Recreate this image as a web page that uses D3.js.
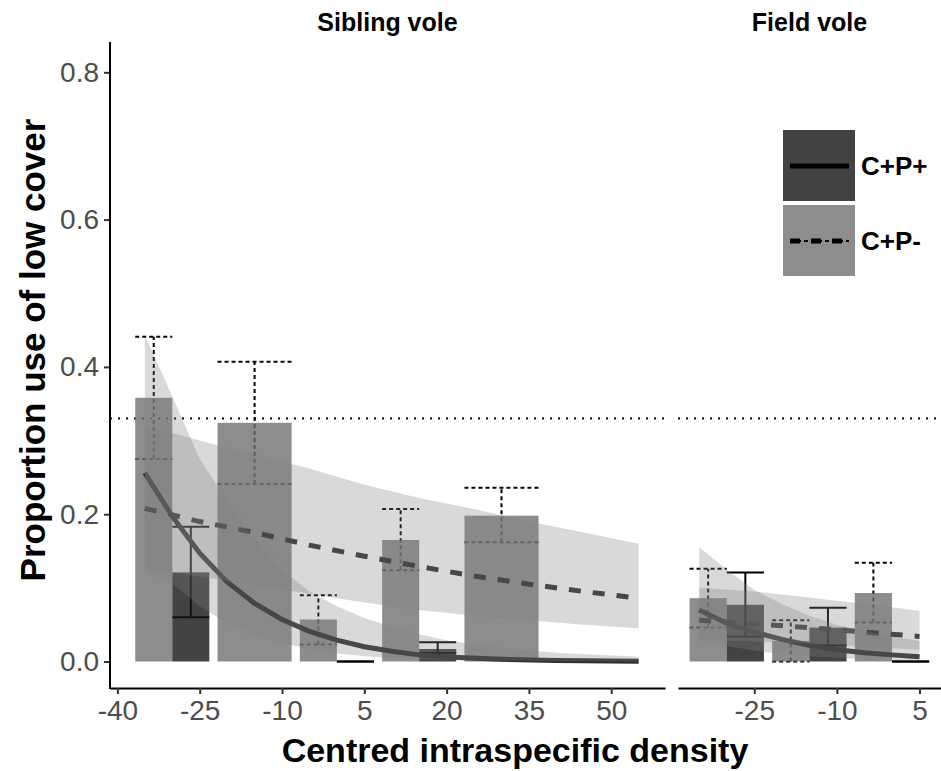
<!DOCTYPE html>
<html>
<head>
<meta charset="utf-8">
<script src="https://cdn.jsdelivr.net/npm/d3@7"></script>
<style>
body { margin: 0; background: #fff; }
text { font-family: "Liberation Sans", Arial, sans-serif; }
</style>
</head>
<body>
<svg id="chart" width="941" height="771"></svg>
<script>
// ---- values ----
// Sibling vole: binned means (bars) with error bars
var sibBins = [-30, -15, 0, 15, 30];
var sibMinusMean = [0.358, 0.324, 0.057, 0.165, 0.198];
var sibMinusLow  = [0.275, 0.241, 0.023, 0.124, 0.162];
var sibMinusHigh = [0.441, 0.407, 0.090, 0.207, 0.236];
var sibPlusMean  = [0.121, null, 0.000, 0.017, null];
var sibPlusLow   = [0.060, null, 0.000, 0.0115, null];
var sibPlusHigh  = [0.183, null, 0.000, 0.026, null];

// Sibling vole: fitted curves and confidence bands
var sibPlusFitX = [-35, -30, -25, -20, -15, -10, -5, 0, 5, 10, 15, 20, 30, 40, 55];
var sibPlusFit  = [0.256, 0.197, 0.147, 0.108, 0.079, 0.057, 0.041, 0.029, 0.020, 0.014, 0.009, 0.006, 0.003, 0.0015, 0.0005];
var sibPlusUpr  = [0.443, 0.360, 0.275, 0.218, 0.165, 0.125, 0.095, 0.075, 0.059, 0.047, 0.037, 0.029, 0.018, 0.012, 0.0065];
var sibPlusLwr  = [0.125, 0.106, 0.075, 0.052, 0.036, 0.025, 0.017, 0.011, 0.007, 0.0045, 0.003, 0.002, 0.001, 0.0005, 0.0001];

var sibMinusFitX = [-35, -25, -15, -5, 5, 15, 25, 35, 45, 55];
var sibMinusFit  = [0.208, 0.190, 0.175, 0.158, 0.143, 0.129, 0.116, 0.105, 0.095, 0.086];
var sibMinusUpr  = [0.320, 0.300, 0.280, 0.262, 0.240, 0.222, 0.207, 0.190, 0.175, 0.160];
var sibMinusLwr  = [0.126, 0.115, 0.104, 0.092, 0.080, 0.070, 0.062, 0.056, 0.050, 0.045];

// Field vole
var fieldBins = [-30, -15, 0];
var fieldMinusMean = [0.086, 0.028, 0.093];
var fieldMinusLow  = [0.046, 0.000, 0.053];
var fieldMinusHigh = [0.126, 0.056, 0.134];
var fieldPlusMean  = [0.077, 0.046, 0.000];
var fieldPlusLow   = [0.034, 0.022, 0.000];
var fieldPlusHigh  = [0.121, 0.073, 0.000];

var fieldPlusFitX = [-35, -30, -25, -20, -15, -10, -5, 0, 5];
var fieldPlusFit  = [0.070, 0.052, 0.040, 0.030, 0.022, 0.016, 0.012, 0.009, 0.0065];
var fieldPlusUpr  = [0.155, 0.125, 0.097, 0.078, 0.062, 0.050, 0.041, 0.034, 0.028];
var fieldPlusLwr  = [0.030, 0.021, 0.015, 0.010, 0.007, 0.005, 0.003, 0.002, 0.0015];

var fieldMinusFitX = [-35, -25, -15, -5, 5];
var fieldMinusFit  = [0.056, 0.051, 0.046, 0.040, 0.034];
var fieldMinusUpr  = [0.100, 0.095, 0.087, 0.078, 0.069];
var fieldMinusLwr  = [0.030, 0.027, 0.024, 0.020, 0.016];

var refLevel = 0.33;     // dotted reference line
var binWidth = 13.5;     // bar width (0.9 of a 15-unit bin)
var yTicks = [0, 0.2, 0.4, 0.6, 0.8];
var sibTicks = [-40, -25, -10, 5, 20, 35, 50];
var fieldTicks = [-25, -10, 5];
var groups = ["C+P+", "C+P-"];

// ---- layout ----
var svg = d3.select("#chart");
var panelTop = 42, panelBottom = 688;

var y = d3.scaleLinear().domain([0, 0.8]).range([661.5, 72.3]);

var panels = [
  {title: "Sibling vole", x: d3.scaleLinear().domain([-41.35, 59.8]).range([110, 665]), ticks: sibTicks,
   bins: sibBins,
   minus: {mean: sibMinusMean, low: sibMinusLow, high: sibMinusHigh},
   plus: {mean: sibPlusMean, low: sibPlusLow, high: sibPlusHigh},
   fitPlus: {x: sibPlusFitX, fit: sibPlusFit, upr: sibPlusUpr, lwr: sibPlusLwr},
   fitMinus: {x: sibMinusFitX, fit: sibMinusFit, upr: sibMinusUpr, lwr: sibMinusLwr}},
  {title: "Field vole", x: d3.scaleLinear().domain([-38.85, 8.9]).range([678, 941]), ticks: fieldTicks,
   bins: fieldBins,
   minus: {mean: fieldMinusMean, low: fieldMinusLow, high: fieldMinusHigh},
   plus: {mean: fieldPlusMean, low: fieldPlusLow, high: fieldPlusHigh},
   fitPlus: {x: fieldPlusFitX, fit: fieldPlusFit, upr: fieldPlusUpr, lwr: fieldPlusLwr},
   fitMinus: {x: fieldMinusFitX, fit: fieldMinusFit, upr: fieldMinusUpr, lwr: fieldMinusLwr}}
];

var barStyle = {
  "C+P+": {fill: "#141414", err: null},
  "C+P-": {fill: "#707070", err: "4,3"}
};

function barRows(p) {
  var rows = [];
  p.bins.forEach(function(c, i) {
    var hasPlus = p.plus.mean[i] != null, hasMinus = p.minus.mean[i] != null;
    var both = hasPlus && hasMinus;
    if (hasMinus) rows.push({g: "C+P-", x0: c - binWidth / 2, x1: both ? c : c + binWidth / 2,
      v: p.minus.mean[i], lo: p.minus.low[i], hi: p.minus.high[i]});
    if (hasPlus) rows.push({g: "C+P+", x0: both ? c : c - binWidth / 2, x1: c + binWidth / 2,
      v: p.plus.mean[i], lo: p.plus.low[i], hi: p.plus.high[i]});
  });
  return rows;
}

function fitRows(f) {
  return f.x.map(function(d, i) { return {x: d, fit: f.fit[i], upr: f.upr[i], lwr: f.lwr[i]}; });
}

panels.forEach(function(p) {
  var x = p.x;
  var g = svg.append("g");
  var rows = barRows(p);

  // reference line
  g.append("line")
    .attr("x1", x.range()[0]).attr("x2", x.range()[1])
    .attr("y1", y(refLevel)).attr("y2", y(refLevel))
    .attr("stroke", "#000").attr("stroke-width", 2)
    .attr("stroke-dasharray", "2,6");

  // error bars (under the translucent bars)
  var eb = g.selectAll(".err").data(rows).enter().append("g").attr("class", "err")
    .attr("stroke", "#000").attr("stroke-width", 2)
    .attr("stroke-dasharray", function(d) { return barStyle[d.g].err; });
  eb.append("line")
    .attr("x1", function(d) { return x((d.x0 + d.x1) / 2); })
    .attr("x2", function(d) { return x((d.x0 + d.x1) / 2); })
    .attr("y1", function(d) { return y(d.lo); })
    .attr("y2", function(d) { return y(d.hi); });
  ["lo", "hi"].forEach(function(k) {
    eb.append("line")
      .attr("x1", function(d) { return x(d.x0); })
      .attr("x2", function(d) { return x(d.x1); })
      .attr("y1", function(d) { return y(d[k]); })
      .attr("y2", function(d) { return y(d[k]); });
  });

  // bars
  g.selectAll(".bar").data(rows).enter().append("rect").attr("class", "bar")
    .attr("x", function(d) { return x(d.x0); })
    .attr("width", function(d) { return x(d.x1) - x(d.x0); })
    .attr("y", function(d) { return y(d.v); })
    .attr("height", function(d) { return y(0) - y(d.v); })
    .attr("fill", function(d) { return barStyle[d.g].fill; })
    .attr("fill-opacity", 0.8);

  // fitted lines
  var line = d3.line().x(function(d) { return x(d.x); }).y(function(d) { return y(d.fit); });
  g.append("path").datum(fitRows(p.fitPlus))
    .attr("d", line).attr("fill", "none")
    .attr("stroke", "#2e2e2e").attr("stroke-width", 5);
  g.append("path").datum(fitRows(p.fitMinus))
    .attr("d", line).attr("fill", "none")
    .attr("stroke", "#2e2e2e").attr("stroke-width", 5)
    .attr("stroke-dasharray", "12,12");

  // confidence ribbons on top
  var area = d3.area().x(function(d) { return x(d.x); })
    .y0(function(d) { return y(d.lwr); }).y1(function(d) { return y(d.upr); });
  [p.fitPlus, p.fitMinus].forEach(function(f) {
    g.append("path").datum(fitRows(f))
      .attr("d", area).attr("fill", "#808080").attr("fill-opacity", 0.3);
  });

  // x axis
  var ax = g.append("g").attr("transform", "translate(0," + panelBottom + ")")
    .call(d3.axisBottom(x).tickValues(p.ticks).tickFormat(function(d) { return String(d); })
      .tickSize(6).tickSizeOuter(0).tickPadding(5));
  ax.select(".domain").attr("stroke", "#000").attr("stroke-width", 2);
  ax.selectAll(".tick line").attr("stroke", "#333").attr("stroke-width", 2);
  ax.selectAll(".tick text").attr("fill", "#4d4d4d").style("font-size", "28px")
    .attr("dy", "0.75em");

  // strip title
  g.append("text")
    .attr("x", (x.range()[0] + x.range()[1]) / 2).attr("y", 31)
    .attr("text-anchor", "middle")
    .style("font-size", "25px").style("font-weight", "bold")
    .text(p.title);
});

// y axis
var yAx = svg.append("g").attr("transform", "translate(110,0)")
  .call(d3.axisLeft(y).tickValues(yTicks).tickFormat(d3.format(".1f")).tickSize(6).tickPadding(5));
yAx.select(".domain").remove();
yAx.selectAll(".tick line").attr("stroke", "#333").attr("stroke-width", 2);
yAx.selectAll(".tick text").attr("fill", "#4d4d4d").style("font-size", "28px");
svg.append("line").attr("x1", 110).attr("x2", 110)
  .attr("y1", panelTop).attr("y2", panelBottom + 1)
  .attr("stroke", "#000").attr("stroke-width", 2);

// axis titles
svg.append("text")
  .attr("x", 515).attr("y", 762)
  .attr("text-anchor", "middle")
  .style("font-size", "34px").style("font-weight", "bold")
  .text("Centred intraspecific density");
svg.append("text")
  .attr("transform", "translate(45,350) rotate(-90)")
  .attr("text-anchor", "middle")
  .style("font-size", "35px").style("font-weight", "bold")
  .text("Proportion use of low cover");

// legend
var legend = svg.append("g").attr("transform", "translate(783,130)");
groups.forEach(function(k, i) {
  var row = legend.append("g").attr("transform", "translate(0," + (i * 75) + ")");
  row.append("rect").attr("width", 72).attr("height", 71)
    .attr("fill", barStyle[k].fill).attr("fill-opacity", 0.8);
  if (k === "C+P+") {
    row.append("line").attr("x1", 7).attr("x2", 66).attr("y1", 36).attr("y2", 36)
      .attr("stroke", "#000").attr("stroke-width", 5);
  } else {
    row.append("line").attr("x1", 7).attr("x2", 66).attr("y1", 36).attr("y2", 36)
      .attr("stroke", "#000").attr("stroke-width", 2).attr("stroke-dasharray", "4,3");
    row.append("line").attr("x1", 7).attr("x2", 66).attr("y1", 36).attr("y2", 36)
      .attr("stroke", "#000").attr("stroke-width", 5).attr("stroke-dasharray", "10,11");
  }
  row.append("text").attr("x", 78).attr("y", 36).attr("dy", "0.36em")
    .style("font-size", "26px").style("font-weight", "bold")
    .text(k);
});
</script>
</body>
</html>
